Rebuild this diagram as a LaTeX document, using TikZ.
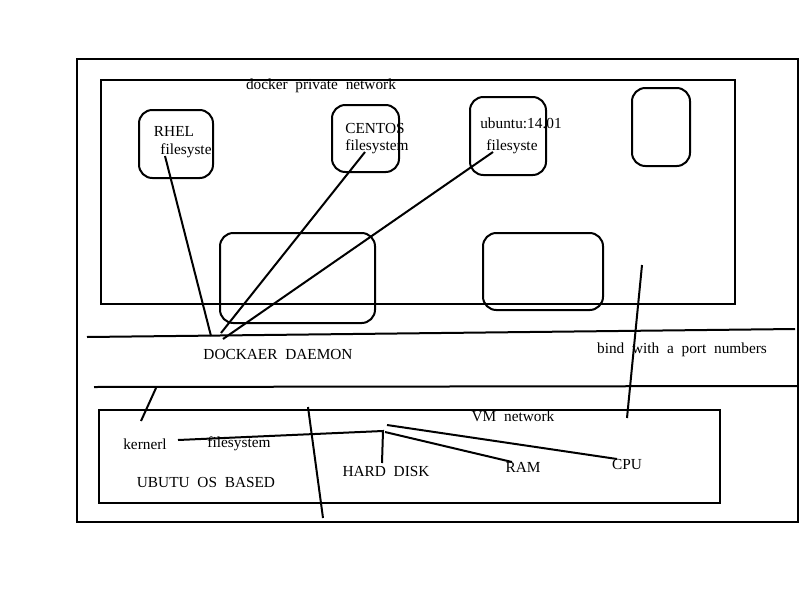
\documentclass[tikz,border=0pt]{standalone}
\usepackage{fontspec}
\setmainfont{Liberation Serif}
\usetikzlibrary{fit}
\newcommand{\widespace}{\spaceskip=5.8pt\relax}

\begin{document}
\begin{tikzpicture}[x=0.75pt, y=-0.75pt, line width=1.5pt,
    box/.style={draw, inner sep=0pt},
    rbox/.style={draw, rounded corners=10pt, inner sep=0pt},
    lbl/.style={font=\fontsize{11.5}{13}\selectfont\widespace, inner sep=0pt}]
    \useasboundingbox (0,0) rectangle (800,600);

    % Boxes
    \node[box, fit={(77,59) (798,522)}] (host) {};
    \node[box, fit={(101,80) (735,304)}] (private) {};
    \node[rbox, fit={(139,110) (213,178)}] (rhel) {};
    \node[rbox, fit={(332,105) (399,172)}] (centos) {};
    \node[rbox, fit={(470,97) (546,175)}] (ubuntu) {};
    \node[rbox, fit={(632,88) (690,166)}] (spare) {};
    \node[rbox, fit={(220,233) (375,323)}] (contA) {};
    \node[rbox, fit={(483,233) (603,310)}] (contB) {};
    \node[box, fit={(99,410) (720,503)}] (vm) {};

    % Labels
    \node[lbl] (dpn) at (321,86) {docker private network};
    \node[lbl] (rheltxt) at (174,131) {RHEL};
    \node[lbl] (rhelfs) at (186,151) {filesyste};
    \node[lbl] (centostxt) at (375,128) {CENTOS};
    \node[lbl] (centosfs) at (377,147) {filesystem};
    \node[lbl] (ubuntutxt) at (521,123) {ubuntu:14.01};
    \node[lbl] (ubuntufs) at (512,147) {filesyste};
    \node[lbl] (daemon) at (278,354) {DOCKAER DAEMON};
    \node[lbl] (bind) at (682,350) {bind with a port numbers};
    \node[lbl] (vmnet) at (513,416) {VM network};
    \node[lbl] (kernel) at (145,444) {kernerl};
    \node[lbl] (kernelfs) at (239,444) {filesystem};
    \node[lbl] (osbased) at (206,482) {UBUTU OS BASED};
    \node[lbl] (disk) at (386,471) {HARD DISK};
    \node[lbl] (ram) at (523,467) {RAM};
    \node[lbl] (cpu) at (627,464) {CPU};

    % Line ends
    \coordinate (rhelA) at (165,156);
    \coordinate (rhelB) at (211,336);
    \coordinate (centosA) at (365,152);
    \coordinate (centosB) at (221,333);
    \coordinate (ubuntuA) at (493,152);
    \coordinate (ubuntuB) at (223,339);
    \coordinate (topL) at (87,337);
    \coordinate (topR) at (795,329);
    \coordinate (botL) at (94,387);
    \coordinate (botR) at (798,386);
    \coordinate (kernA) at (156,388);
    \coordinate (kernB) at (141,421);
    \coordinate (cutA) at (308,407);
    \coordinate (cutB) at (323,518);
    \coordinate (portA) at (642,265);
    \coordinate (portB) at (627,418);
    \coordinate (fsA) at (178,440);
    \coordinate (hub) at (383,431);
    \coordinate (diskB) at (382,463);
    \coordinate (cpuA) at (387,425);
    \coordinate (cpuB) at (617,459);
    \coordinate (ramA) at (385,432);
    \coordinate (ramB) at (512,462);

    % Lines
    \draw (rhelA) -- (rhelB);
    \draw (centosA) -- (centosB);
    \draw (ubuntuA) -- (ubuntuB);
    \draw (topL) -- (topR);
    \draw (botL) -- (botR);
    \draw (kernA) -- (kernB);
    \draw (cutA) -- (cutB);
    \draw (portA) -- (portB);
    \draw (fsA) -- (hub) -- (diskB);
    \draw (cpuA) -- (cpuB);
    \draw (ramA) -- (ramB);
\end{tikzpicture}
\end{document}
